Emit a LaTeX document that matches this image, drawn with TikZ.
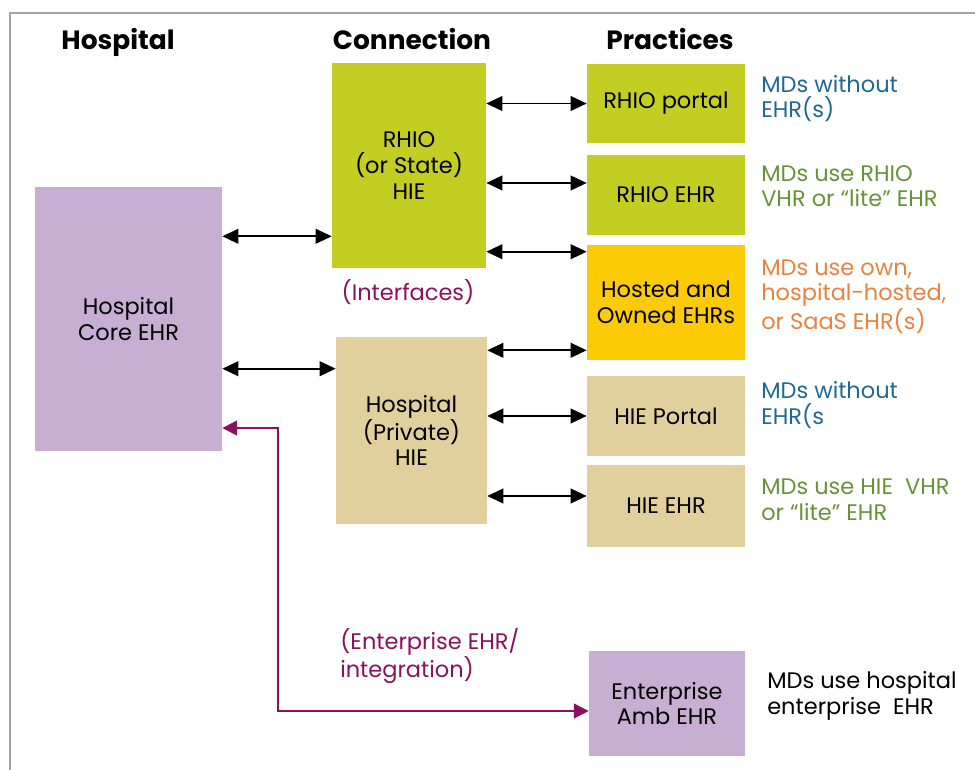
\documentclass[tikz,border=0pt]{standalone}
\usepackage{fontspec}
\setmainfont{Poppins}
\usepackage{tikz}
\usetikzlibrary{arrows.meta, positioning}

\definecolor{lilac}{RGB}{200,174,211}
\definecolor{rhiogreen}{RGB}{195,205,34}
\definecolor{tan}{RGB}{225,207,157}
\definecolor{gold}{RGB}{252,203,5}
\definecolor{plum}{RGB}{140,16,96}
\definecolor{mdblue}{RGB}{31,105,145}
\definecolor{mdgreen}{RGB}{104,146,58}
\definecolor{mdorange}{RGB}{232,130,62}
\definecolor{framegray}{RGB}{165,165,165}

\begin{document}
\begin{tikzpicture}[x=0.025cm, y=-0.025cm,
    box/.style={rectangle, text centered, align=center, inner sep=0pt, font=\fontsize{16}{18.2}\selectfont},
    head/.style={anchor=base, font=\fontsize{18.8}{20}\selectfont\bfseries},
    note/.style={anchor=west, align=left, inner sep=0pt, font=\fontsize{16}{18.2}\selectfont},
    link/.style={{Triangle[length=11.5pt,width=10.5pt]}-{Triangle[length=11.5pt,width=10.5pt]}, line width=1.4pt},
    ehr/.style={{Triangle[length=10.5pt,width=10.5pt]}-{Triangle[length=10.5pt,width=10.5pt]}, line width=1.1pt, color=plum}]
    \useasboundingbox (0,0) rectangle (975,770);
    \draw[framegray, line width=1.3pt] (975,13) -- (10,13) -- (10,770);

    % column headings
    \node (hospHead) [head] at (118,49) {Hospital};
    \node (connHead) [head] at (412,49) {Connection};
    \node (pracHead) [head] at (670,49) {Practices};

    % hospital and connection boxes
    \node (core) [box, fill=lilac, minimum width=4.675cm, minimum height=6.6cm] at (128.5,319) {Hospital\\Core EHR};
    \node (rhio) [box, fill=rhiogreen, minimum width=3.85cm, minimum height=5.125cm] at (409,165.5) {RHIO\\(or State)\\HIE};
    \node (hie) [box, fill=tan, minimum width=3.775cm, minimum height=4.675cm] at (411.5,430.5) {Hospital\\(Private)\\HIE};
    \node (ifaceLabel) [box, text=plum] at (408,292) {(Interfaces)};

    % practice boxes
    \node (rhioPortal) [box, fill=rhiogreen, minimum width=3.95cm, minimum height=1.975cm] at (666,103.5) {RHIO portal};
    \node (rhioEhr) [box, fill=rhiogreen, minimum width=3.95cm, minimum height=2cm] at (666,195) {RHIO EHR};
    \node (hosted) [box, fill=gold, minimum width=3.95cm, minimum height=2.875cm] at (666,302.5) {Hosted and\\Owned EHRs};
    \node (hiePortal) [box, fill=tan, minimum width=3.95cm, minimum height=2cm] at (666,416) {HIE Portal};
    \node (hieEhr) [box, fill=tan, minimum width=3.95cm, minimum height=2.05cm] at (666,506) {HIE EHR};
    \node (entAmb) [box, fill=lilac, minimum width=3.9cm, minimum height=2.625cm] at (667,703.5) {Enterprise\\Amb EHR};

    % notes on the right
    \node (noteRhioPortal) [note, text=mdblue] at (761,98.5) {MDs without\\EHR(s)};
    \node (noteRhioEhr) [note, text=mdgreen] at (761,186) {MDs use RHIO\\VHR or “lite” EHR};
    \node (noteHosted) [note, text=mdorange] at (761,296.5) {MDs use own,\\hospital-hosted,\\or SaaS EHR(s)};
    \node (noteHiePortal) [note, text=mdblue] at (761,405) {MDs without\\EHR(s};
    \node (noteHieEhr) [note, text=mdgreen] at (761,500) {MDs use HIE\ \ VHR\\or “lite” EHR};
    \node (noteEnt) [note] at (767,696) {MDs use hospital\\enterprise\ \ EHR};
    \node (entLabel) [note, text=plum] at (340,656) {(Enterprise EHR/\\integration)};

    % two-way links
    \draw[link] ([yshift=0.8cm]rhio.south west -| core.east) -- ([yshift=0.8cm]rhio.south west);
    \draw[link] ([yshift=-0.8cm]hie.north west -| core.east) -- ([yshift=-0.8cm]hie.north west);
    \draw[link] (rhio.east |- rhioPortal.west) -- (rhioPortal.west);
    \draw[link] ([yshift=0.3cm]rhioEhr.west -| rhio.east) -- ([yshift=0.3cm]rhioEhr.west);
    \draw[link] ([yshift=-0.175cm]hosted.north west -| rhio.east) -- ([yshift=-0.175cm]hosted.north west);
    \draw[link] ([yshift=0.25cm]hosted.south west -| hie.east) -- ([yshift=0.25cm]hosted.south west);
    \draw[link] (hie.east |- hiePortal.west) -- (hiePortal.west);
    \draw[link] ([yshift=0.25cm]hieEhr.west -| hie.east) -- ([yshift=0.25cm]hieEhr.west);

    % enterprise EHR integration
    \coordinate (entTurn) at (278,711);
    \draw[ehr] ([yshift=-2.725cm]core.east) -| (entTurn) -- (entTurn -| entAmb.west);
\end{tikzpicture}
\end{document}
